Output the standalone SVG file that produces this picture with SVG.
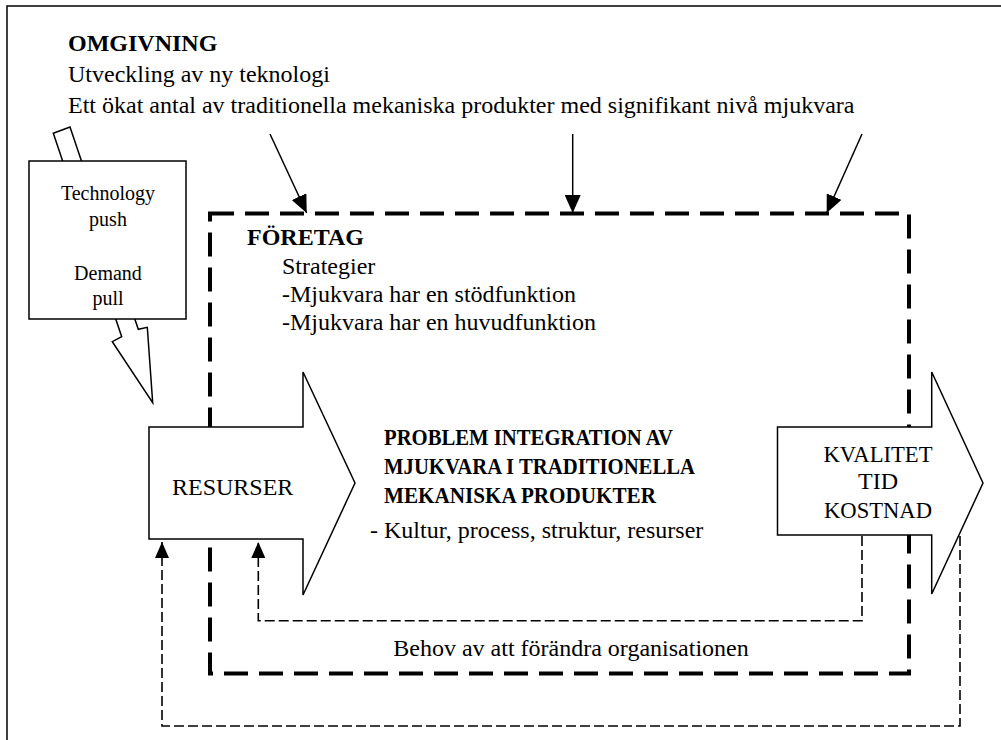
<svg xmlns="http://www.w3.org/2000/svg" width="1001" height="740" viewBox="0 0 1001 740">
  <style>
    .txt { font-family: "Liberation Serif", "Times New Roman", serif; fill: #000; }
    .body { font-size: 24px; }
    .bold { font-weight: bold; }
    .small { font-size: 20px; }
    .solid { fill: none; stroke: #000; stroke-width: 1.5; }
    .shape { fill: #fff; stroke: #000; stroke-width: 1.5; stroke-linejoin: miter; }
    .bigdash { fill: none; stroke: #000; stroke-width: 4; stroke-dasharray: 24 11; }
    .thindash { fill: none; stroke: #000; stroke-width: 1.6; stroke-dasharray: 10 4; }
  </style>
  <defs>
    <marker id="head" markerUnits="userSpaceOnUse" markerWidth="18" markerHeight="16" refX="18" refY="8" orient="auto">
      <path d="M0,0 L18,8 L0,16 Z" fill="#000"/>
    </marker>
    <marker id="headThin" markerUnits="userSpaceOnUse" markerWidth="16" markerHeight="14" refX="16" refY="7" orient="auto">
      <path d="M0,0 L16,7 L0,14 Z" fill="#000"/>
    </marker>
  </defs>

  <rect width="1001" height="740" fill="#fff"/>

  <!-- environment frame -->
  <g id="omgivning">
    <polyline class="solid" points="7,740 7,6 1001,6"/>
    <text class="txt body bold" x="68" y="51">OMGIVNING</text>
    <text class="txt body" x="68" y="82">Utveckling av ny teknologi</text>
    <text class="txt body" x="68" y="113">Ett ökat antal av traditionella mekaniska produkter med signifikant nivå mjukvara</text>
  </g>

  <!-- company boundary -->
  <g id="foretag">
    <path class="bigdash" d="M210,213.5 H909 V673.5 H210 Z"/>
    <text class="txt body bold" x="247" y="245">FÖRETAG</text>
    <text class="txt body" x="282" y="274">Strategier</text>
    <text class="txt body" x="282" y="302">-Mjukvara har en stödfunktion</text>
    <text class="txt body" x="282" y="330">-Mjukvara har en huvudfunktion</text>
  </g>

  <!-- connectors -->
  <g id="connectors">
    <line class="solid" x1="270" y1="134" x2="306.7" y2="213" marker-end="url(#head)"/>
    <line class="solid" x1="572.7" y1="134" x2="572.7" y2="213" marker-end="url(#head)"/>
    <line class="solid" x1="862" y1="134" x2="826.7" y2="213" marker-end="url(#head)"/>
    <path class="thindash" d="M960,536 V726 H162 V542" marker-end="url(#headThin)"/>
    <path class="thindash" d="M862,536 V620.7 H258.3 V542" marker-end="url(#headThin)"/>
    <text class="txt body" x="571" y="656" text-anchor="middle">Behov av att förändra organisationen</text>
  </g>

  <!-- technology push / demand pull -->
  <g id="drivers">
    <polygon class="shape" points="70,127 138.3,329.3 147.3,327.3 152.7,402.7 112.3,341.7 121.7,336.7 53.3,133.3"/>
    <rect class="shape" x="29" y="161" width="157" height="158"/>
    <text class="txt small" x="108" y="200" text-anchor="middle">Technology</text>
    <text class="txt small" x="108" y="226" text-anchor="middle">push</text>
    <text class="txt small" x="108" y="280" text-anchor="middle">Demand</text>
    <text class="txt small" x="108" y="305" text-anchor="middle">pull</text>
  </g>

  <!-- input resources -->
  <g id="resurser">
    <path class="shape" d="M149,427 H303 V372 L355,483 L303,595 V539 H149 Z"/>
    <text class="txt body" x="172" y="495">RESURSER</text>
  </g>

  <!-- central problem -->
  <g id="problem">
    <text class="txt body bold" x="384" y="445" textLength="289" lengthAdjust="spacingAndGlyphs">PROBLEM INTEGRATION AV</text>
    <text class="txt body bold" x="384" y="474" textLength="311" lengthAdjust="spacingAndGlyphs">MJUKVARA I TRADITIONELLA</text>
    <text class="txt body bold" x="384" y="503" textLength="272" lengthAdjust="spacingAndGlyphs">MEKANISKA PRODUKTER</text>
    <text class="txt body" x="370" y="538">- Kultur, process, struktur, resurser</text>
  </g>

  <!-- output -->
  <g id="resultat">
    <path class="shape" d="M777.5,427 H931.7 V372 L983,483 L931.7,594 V535 H777.5 Z"/>
    <text class="txt body" x="878" y="462" text-anchor="middle" textLength="109" lengthAdjust="spacingAndGlyphs">KVALITET</text>
    <text class="txt body" x="878" y="489" text-anchor="middle">TID</text>
    <text class="txt body" x="878" y="518" text-anchor="middle" textLength="108" lengthAdjust="spacingAndGlyphs">KOSTNAD</text>
  </g>
</svg>
